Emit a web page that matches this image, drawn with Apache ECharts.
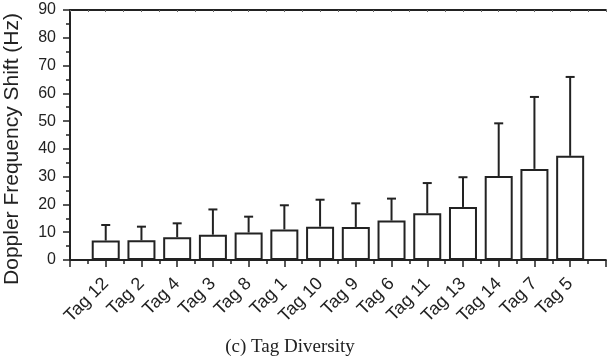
<!DOCTYPE html>
<html>
<head>
<meta charset="utf-8">
<script src="https://cdn.jsdelivr.net/npm/echarts@6/dist/echarts.min.js"></script>
<style>
html,body{margin:0;padding:0;background:#fff;}
#c{width:608px;height:362px;}
</style>
</head>
<body>
<div id="c"></div>
<script>
var categories = ['Tag 12','Tag 2','Tag 4','Tag 3','Tag 8','Tag 1','Tag 10','Tag 9','Tag 6','Tag 11','Tag 13','Tag 14','Tag 7','Tag 5'];
var means = [7.0, 7.1, 8.2, 9.1, 9.9, 11.0, 12.0, 11.9, 14.2, 16.8, 19.1, 30.2, 32.8, 37.5];
var errors = [5.6, 4.9, 5.0, 9.1, 5.7, 8.7, 9.7, 8.5, 7.9, 10.9, 10.7, 19.0, 25.9, 28.4];
var yTicks = [0, 10, 20, 30, 40, 50, 60, 70, 80, 90];
var yTitle = 'Doppler Frequency Shift (Hz)';
var caption = '(c) Tag Diversity';

var ink = '#222';
var barData = means.map(function (m, i) { return [i + 1, m]; });
var errData = means.map(function (m, i) { return [i + 1, m, m + errors[i]]; });

var chart = echarts.init(document.getElementById('c'), null, {renderer: 'canvas'});
chart.setOption({
  animation: false,
  backgroundColor: '#fff',
  grid: {left: 70, right: 0, top: 10, bottom: 102, containLabel: false},
  xAxis: [{
    type: 'value', position: 'bottom', min: 0, max: categories.length + 1, interval: 1,
    splitLine: {show: false},
    axisLine: {show: true, onZero: false, lineStyle: {color: ink, width: 2}},
    axisTick: {show: true, length: 7, lineStyle: {color: ink, width: 1.5}},
    minorTick: {show: true, splitNumber: 2, length: 4, lineStyle: {color: ink, width: 1.5}},
    axisLabel: {
      rotate: 45, margin: 21, fontFamily: 'Liberation Sans', fontSize: 18, color: ink,
      formatter: function (v) { return (v >= 1 && v <= categories.length) ? categories[v - 1] : ''; }
    }
  }, {
    type: 'value', position: 'top', min: 0, max: categories.length + 1, interval: 0.5,
    splitLine: {show: false},
    axisLine: {show: true, onZero: false, lineStyle: {color: ink, width: 2}},
    axisTick: {show: true, inside: true, length: 2, lineStyle: {color: '#666', width: 1}},
    axisLabel: {show: false}
  }],
  yAxis: {
    type: 'value', min: yTicks[0], max: yTicks[yTicks.length - 1], interval: 10,
    splitLine: {show: false},
    axisLine: {show: true, lineStyle: {color: ink, width: 2}},
    axisTick: {show: true, length: 7, lineStyle: {color: ink, width: 1.5}},
    minorTick: {show: true, splitNumber: 2, length: 4, lineStyle: {color: ink, width: 1.5}},
    axisLabel: {margin: 14, fontFamily: 'Liberation Sans', fontSize: 16, color: ink}
  },
  graphic: [{
    type: 'text', x: 12, y: 149, rotation: Math.PI / 2,
    style: {text: yTitle, font: '21px "Liberation Sans"', fill: ink, textAlign: 'center', textVerticalAlign: 'middle'}
  }, {
    type: 'text', x: 290, y: 347,
    style: {text: caption, font: '19px "Liberation Serif"', fill: ink, textAlign: 'center', textVerticalAlign: 'middle'}
  }],
  series: [{
    type: 'bar', xAxisIndex: 0, data: barData, barWidth: 28,
    itemStyle: {color: '#fff', borderColor: ink, borderWidth: 2}
  }, {
    type: 'custom', xAxisIndex: 0, data: errData, z: 3,
    renderItem: function (params, api) {
      var x = api.value(0);
      var base = api.coord([x, api.value(1)]);
      var top = api.coord([x, api.value(2)]);
      var style = {stroke: ink, lineWidth: 2};
      return {
        type: 'group',
        children: [
          {type: 'line', shape: {x1: base[0], y1: base[1], x2: top[0], y2: top[1]}, style: style},
          {type: 'line', shape: {x1: top[0] - 4.5, y1: top[1], x2: top[0] + 4.5, y2: top[1]}, style: style}
        ]
      };
    }
  }]
});
</script>
</body>
</html>
